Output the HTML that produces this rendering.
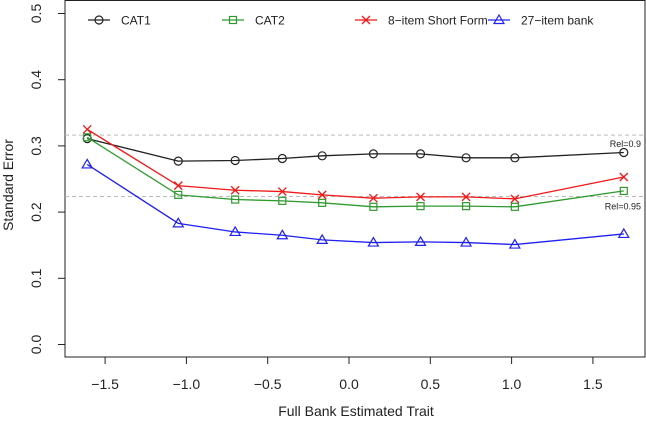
<!DOCTYPE html>
<html><head><meta charset="utf-8"><style>
body{margin:0;background:#fff;}
svg{display:block;font-family:"Liberation Sans",Arial,sans-serif;}
</style></head><body>
<svg id="chart" width="646" height="423" viewBox="0 0 646 423" xmlns="http://www.w3.org/2000/svg"></svg>
<script>
const xVals = [-1.61, -1.05, -0.70, -0.41, -0.165, 0.15, 0.44, 0.72, 1.02, 1.69];
const cat1 = [0.311, 0.277, 0.278, 0.281, 0.285, 0.288, 0.288, 0.282, 0.282, 0.290];
const cat2 = [0.313, 0.226, 0.219, 0.217, 0.214, 0.208, 0.209, 0.209, 0.208, 0.232];
const shortForm = [0.325, 0.240, 0.233, 0.231, 0.226, 0.221, 0.223, 0.223, 0.220, 0.253];
const bank27 = [0.272, 0.183, 0.170, 0.165, 0.158, 0.154, 0.155, 0.154, 0.151, 0.167];
const xTicks = [-1.5, -1.0, -0.5, 0.0, 0.5, 1.0, 1.5];
const yTicks = [0.0, 0.1, 0.2, 0.3, 0.4, 0.5];
const refLevels = [Math.sqrt(0.1), Math.sqrt(0.05)];
const refLabels = ["Rel=0.9", "Rel=0.95"];

const NS = "http://www.w3.org/2000/svg";
const svg = document.getElementById("chart");
const X = v => 349 + v * 162.6;
const Y = v => 344.5 - v * 662;
function mk(tag, attrs, parent) {
  const e = document.createElementNS(NS, tag);
  for (const k in attrs) e.setAttribute(k, attrs[k]);
  (parent || svg).appendChild(e);
  return e;
}
function fmt(v){ return (v < 0 ? "\u2212" : "") + Math.abs(v).toFixed(1); }

const box = mk("rect", {x: 65, y: 0.5, width: 580, height: 356.5, fill: "none", stroke: "#222", "stroke-width": 1});



refLevels.forEach((r, i) => {
  const l = mk("line", {x1: 65, x2: 645, y1: Y(r), y2: Y(r), stroke: "#bbb", "stroke-dasharray": "4,3", "stroke-width": 1});
  
  
  const t = mk("text", {x: 641, y: i === 0 ? Y(r) + 12 : Y(r) + 13, "font-size": 9, "text-anchor": "end", fill: "#222"});
  t.textContent = refLabels[i];
  
  
});

const xg = mk("g", {});


xTicks.forEach(v => {
  mk("line", {x1: X(v), x2: X(v), y1: 357, y2: 364, stroke: "#222"}, xg);
  const t = mk("text", {x: X(v), y: 389, "font-size": 14, "text-anchor": "middle", fill: "#222"}, xg);
  t.textContent = fmt(v);
  
  
});
const xt = mk("text", {x: 356, y: 416, "font-size": 14, "text-anchor": "middle", fill: "#222"});
xt.textContent = "Full Bank Estimated Trait";



const yg = mk("g", {});


yTicks.forEach(v => {
  mk("line", {x1: 58, x2: 65, y1: Y(v), y2: Y(v), stroke: "#222"}, yg);
  const t = mk("text", {x: 0, y: 0, "font-size": 14, "text-anchor": "middle", fill: "#222",
    transform: `translate(41,${Y(v)}) rotate(-90)`}, yg);
  t.textContent = v.toFixed(1);
  
  
});
const yt = mk("text", {x: 0, y: 0, "font-size": 14, "text-anchor": "middle", fill: "#222", transform: "translate(13,185) rotate(-90)"});
yt.textContent = "Standard Error";



function marker(type, cx, cy, color, parent) {
  if (type === "circle") return mk("circle", {cx, cy, r: 4, fill: "none", stroke: color, "stroke-width": 1.2}, parent);
  if (type === "square") return mk("rect", {x: cx - 3.5, y: cy - 3.5, width: 7, height: 7, fill: "none", stroke: color, "stroke-width": 1.2}, parent);
  if (type === "cross") return mk("path", {d: `M${cx-4},${cy-4}L${cx+4},${cy+4}M${cx-4},${cy+4}L${cx+4},${cy-4}`, stroke: color, "stroke-width": 1.3}, parent);
  return mk("path", {d: `M${cx},${cy-5}L${cx+5},${cy+3.5}L${cx-5},${cy+3.5}Z`, fill: "none", stroke: color, "stroke-width": 1.2}, parent);
}

const series = [
  {name: "cat1", vals: cat1, color: "#222", m: "circle", label: "CAT1", lx: 88},
  {name: "cat2", vals: cat2, color: "#2e9a2e", m: "square", label: "CAT2", lx: 222},
  {name: "short-form", vals: shortForm, color: "#f01818", m: "cross", label: "8\u2212item Short Form", lx: 355},
  {name: "item-bank", vals: bank27, color: "#2020f0", m: "triangle", label: "27\u2212item bank", lx: 488}
];
series.forEach(s => {
  const g = mk("g", {});
  
  
  const pts = xVals.map((x, i) => [X(x), Y(s.vals[i])]);
  const pl = mk("polyline", {points: pts.map(p => p.join(",")).join(" "), fill: "none", stroke: s.color, "stroke-width": 1.3}, g);
  
  
  pts.forEach(p => {
    const mm = marker(s.m, p[0], p[1], s.color, g);
    
    
  });
  const lg = mk("g", {});
  
  
  mk("line", {x1: s.lx, x2: s.lx + 22, y1: 20, y2: 20, stroke: s.color, "stroke-width": 1.3}, lg);
  marker(s.m, s.lx + 11, 20, s.color, lg);
  const t = mk("text", {x: s.lx + 33, y: 24.5, "font-size": 12, fill: "#222"}, lg);
  t.textContent = s.label;
});
</script>
</body></html>
